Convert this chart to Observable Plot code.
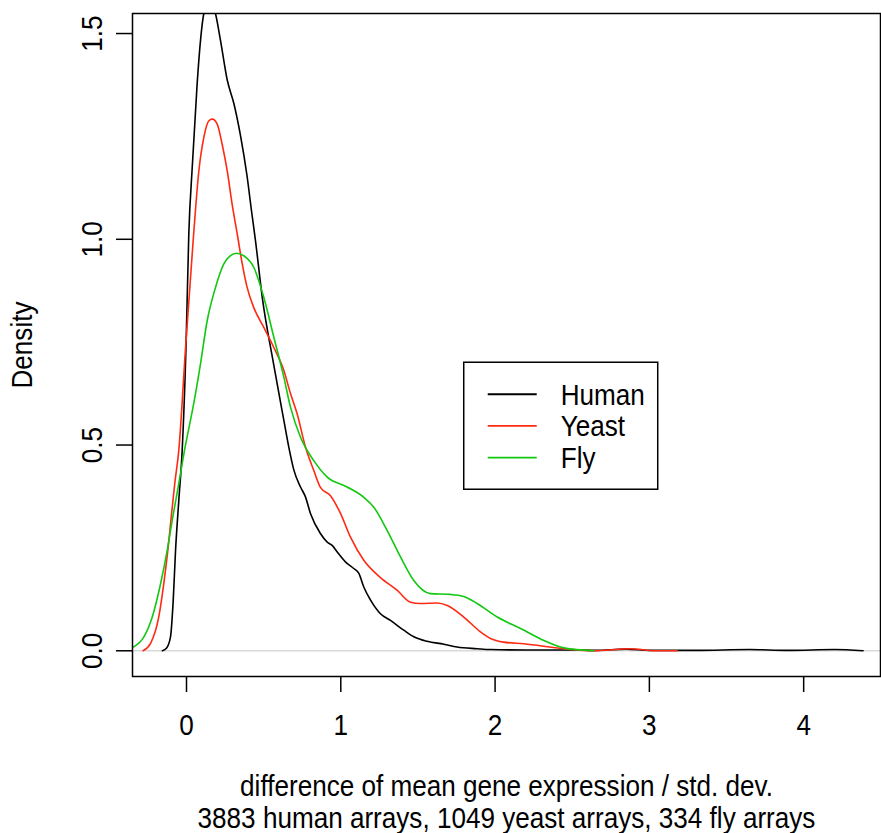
<!DOCTYPE html>
<html><head><meta charset="utf-8">
<script src="https://cdn.jsdelivr.net/npm/d3@7"></script>
<script src="https://cdn.jsdelivr.net/npm/@observablehq/plot@0.6"></script>
<style>
html,body{margin:0;padding:0;background:#fff;}
</style></head><body><div id="chart"></div>
<script>
// ---- data ----
const seriesNames = ["Human", "Yeast", "Fly"];
const seriesColors = ["#000000", "#ff2a12", "#11c811"];

const humanX = [-0.156,-0.13,-0.104,-0.086,-0.071,-0.050,-0.028,-0.003,0.015,0.037,0.069,0.091,0.112,0.15,0.188,0.220,0.264,0.307,0.350,0.392,0.421,0.447,0.491,0.564,0.631,0.663,0.696,0.739,0.771,0.804,0.868,0.912,0.944,0.977,1.030,1.084,1.117,1.149,1.193,1.257,1.322,1.408,1.473,1.560,1.668,1.754,1.884,1.970,2.2,2.5,2.65,2.85,3.0,3.3,3.65,3.9,4.2,4.385];
const humanY = [0,0.006,0.033,0.123,0.244,0.365,0.487,0.742,1.014,1.174,1.378,1.484,1.548,1.58,1.548,1.484,1.387,1.330,1.252,1.155,1.070,0.997,0.859,0.698,0.560,0.495,0.439,0.398,0.374,0.333,0.285,0.264,0.256,0.240,0.216,0.200,0.188,0.155,0.123,0.090,0.074,0.050,0.034,0.023,0.016,0.009,0.005,0.003,0.002,0.002,0.001,0.004,0.001,0.001,0.003,0.001,0.003,0.0];

const yeastX = [-0.281,-0.233,-0.180,-0.147,-0.121,-0.099,-0.076,-0.050,-0.006,0.043,0.080,0.112,0.145,0.167,0.199,0.231,0.264,0.296,0.331,0.361,0.393,0.436,0.501,0.566,0.631,0.674,0.717,0.771,0.825,0.868,0.933,0.998,1.063,1.149,1.257,1.366,1.452,1.517,1.625,1.690,1.797,1.905,1.970,2.056,2.186,2.445,2.640,2.877,3.04,3.18];
const yeastY = [0,0.018,0.082,0.164,0.244,0.325,0.407,0.487,0.737,0.996,1.166,1.247,1.288,1.292,1.280,1.231,1.166,1.085,1.008,0.941,0.883,0.834,0.786,0.737,0.681,0.625,0.576,0.495,0.438,0.397,0.377,0.334,0.276,0.220,0.178,0.147,0.118,0.115,0.116,0.110,0.082,0.046,0.030,0.021,0.017,0.005,0.0,0.005,0.0,0.0];

const flyX = [-0.345,-0.277,-0.222,-0.168,-0.125,-0.089,-0.050,-0.013,0.047,0.091,0.134,0.188,0.242,0.285,0.324,0.371,0.436,0.501,0.566,0.631,0.674,0.739,0.825,0.912,1.041,1.149,1.214,1.301,1.387,1.473,1.581,1.711,1.797,1.884,2.014,2.165,2.316,2.445,2.640];
const flyY = [0.009,0.033,0.082,0.163,0.244,0.325,0.406,0.487,0.601,0.698,0.802,0.883,0.940,0.960,0.966,0.960,0.932,0.859,0.762,0.665,0.592,0.519,0.462,0.422,0.398,0.373,0.349,0.292,0.228,0.171,0.139,0.137,0.132,0.115,0.082,0.054,0.025,0.007,0.0];

const xTicks = [0, 1, 2, 3, 4];
const yTicks = [0, 0.5, 1, 1.5];
const xLabel1 = "difference of mean gene expression / std. dev.";
const xLabel2 = "3883 human arrays, 1049 yeast arrays, 334 fly arrays";
const yLabel = "Density";

// ---- build table ----
const rows = [];
[[humanX, humanY], [yeastX, yeastY], [flyX, flyY]].forEach(([xs, ys], i) =>
  xs.forEach((x, j) => rows.push({series: seriesNames[i], x, y: ys[j]})));

const font = "'Liberation Sans', Arial, Helvetica, sans-serif";
const plot = Plot.plot({
  width: 881, height: 833,
  marginLeft: 132, marginRight: 1, marginTop: 13, marginBottom: 157,
  x: {domain: [-0.350, 4.498]},
  y: {domain: [-0.0625, 1.5487]},
  color: {domain: seriesNames, range: seriesColors},
  style: {fontFamily: font, fontSize: "30px", color: "#000", background: "#fff", overflow: "visible"},
  marks: [
    Plot.ruleY([0], {stroke: "#d9d9d9", strokeWidth: 1.6}),
    Plot.line(rows, {x: "x", y: "y", z: "series", stroke: "series", strokeWidth: 1.6, curve: "monotone-x", clip: true}),
    Plot.frame({stroke: "#000", strokeWidth: 1.5}),
    Plot.axisX({ticks: xTicks, tickSize: 16, tickPadding: 21, tickFormat: d => String(d), label: null, strokeWidth: 1.5}),
    Plot.axisY({ticks: yTicks, tickSize: 16, tickFormat: () => "", label: null, strokeWidth: 1.5}),
    Plot.text(yTicks, {y: d => d, text: d => d.toFixed(1), frameAnchor: "left", textAnchor: "middle", lineAnchor: "middle", rotate: -90, dx: -40}),
    Plot.text([yLabel], {text: d => d, frameAnchor: "left", textAnchor: "middle", lineAnchor: "middle", rotate: -90, dx: -110}),
    Plot.text([xLabel1], {text: d => d, frameAnchor: "bottom", textAnchor: "middle", lineAnchor: "middle", dy: 110}),
    Plot.text([xLabel2], {text: d => d, frameAnchor: "bottom", textAnchor: "middle", lineAnchor: "middle", dy: 141.5})
  ]
});
document.getElementById("chart").appendChild(plot);

// ---- legend (placed at data position x=1.8, y=0.7 like R's legend()) ----
const sx = plot.scale("x"), sy = plot.scale("y");
const lx = sx.apply(1.8), ly = sy.apply(0.7);
const g = d3.select(plot).append("g").attr("font-family", font).attr("font-size", 30);
g.append("rect").attr("x", lx).attr("y", ly).attr("width", 194).attr("height", 127)
  .attr("fill", "#fff").attr("stroke", "#000").attr("stroke-width", 1.5);
seriesNames.forEach((name, i) => {
  const yy = ly + 32 + i * 31.7;
  g.append("line").attr("x1", lx + 24).attr("x2", lx + 73).attr("y1", yy).attr("y2", yy)
    .attr("stroke", seriesColors[i]).attr("stroke-width", 1.8);
  g.append("text").attr("x", lx + 97).attr("y", yy).attr("dy", "0.35em")
    .attr("text-anchor", "start").attr("fill", "#000").text(name);
});

// ---- narrow the glyphs horizontally (reference font is taller than wide) ----
d3.select(plot).selectAll("text").each(function () {
  const x = +this.getAttribute("x") || 0, y = +this.getAttribute("y") || 0;
  const t = this.getAttribute("transform") || "";
  this.setAttribute("transform", `${t} translate(${x},${y}) scale(0.87,1) translate(${-x},${-y})`);
});
</script></body></html>
